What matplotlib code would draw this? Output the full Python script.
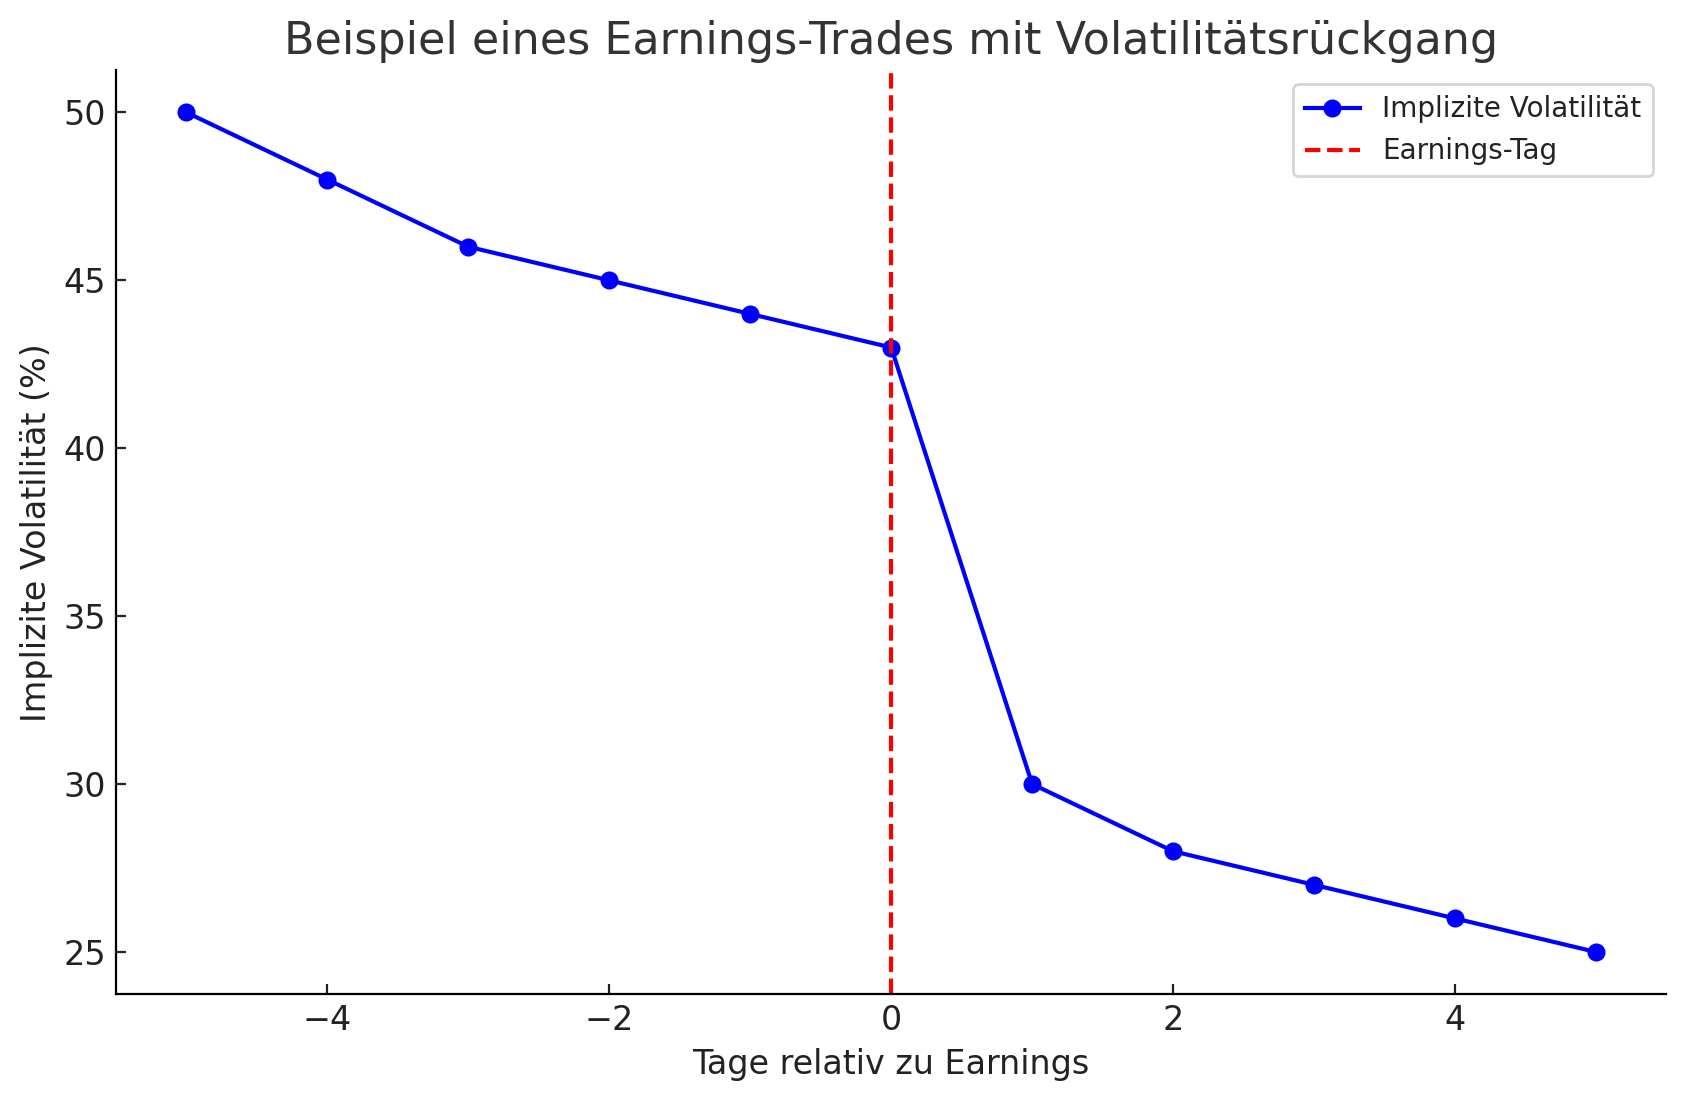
import matplotlib
matplotlib.use("Agg")
import matplotlib.pyplot as plt

# Data
days = [-5, -4, -3, -2, -1, 0, 1, 2, 3, 4, 5]
iv = [50, 48, 46, 45, 44, 43, 30, 28, 27, 26, 25]
earnings_day = 0

plt.rcParams["font.family"] = "DejaVu Sans"
plt.rcParams["text.color"] = "#222222"
plt.rcParams["axes.labelcolor"] = "#222222"
plt.rcParams["xtick.color"] = "#222222"
plt.rcParams["ytick.color"] = "#222222"

fig = plt.figure(figsize=(8.43, 5.505), dpi=200)
ax = fig.add_axes([0.0688, 0.0972, 0.9196, 0.8388])

ax.plot(days, iv, color="blue", marker="o", markersize=5.5, linewidth=1.5,
        label="Implizite Volatilität")
ax.axvline(earnings_day, color="red", linestyle="--", linewidth=1.5, label="Earnings-Tag")

ax.set_xlabel("Tage relativ zu Earnings", fontsize=12)
ax.set_ylabel("Implizite Volatilität (%)", fontsize=12)
ax.set_title("Beispiel eines Earnings-Trades mit Volatilitätsrückgang", fontsize=16, color="#333333")
ax.tick_params(direction="in", labelsize=12)
ax.spines["top"].set_visible(False)
ax.spines["right"].set_visible(False)
ax.legend(fontsize=10)

fig.savefig("out.png", dpi=200)
